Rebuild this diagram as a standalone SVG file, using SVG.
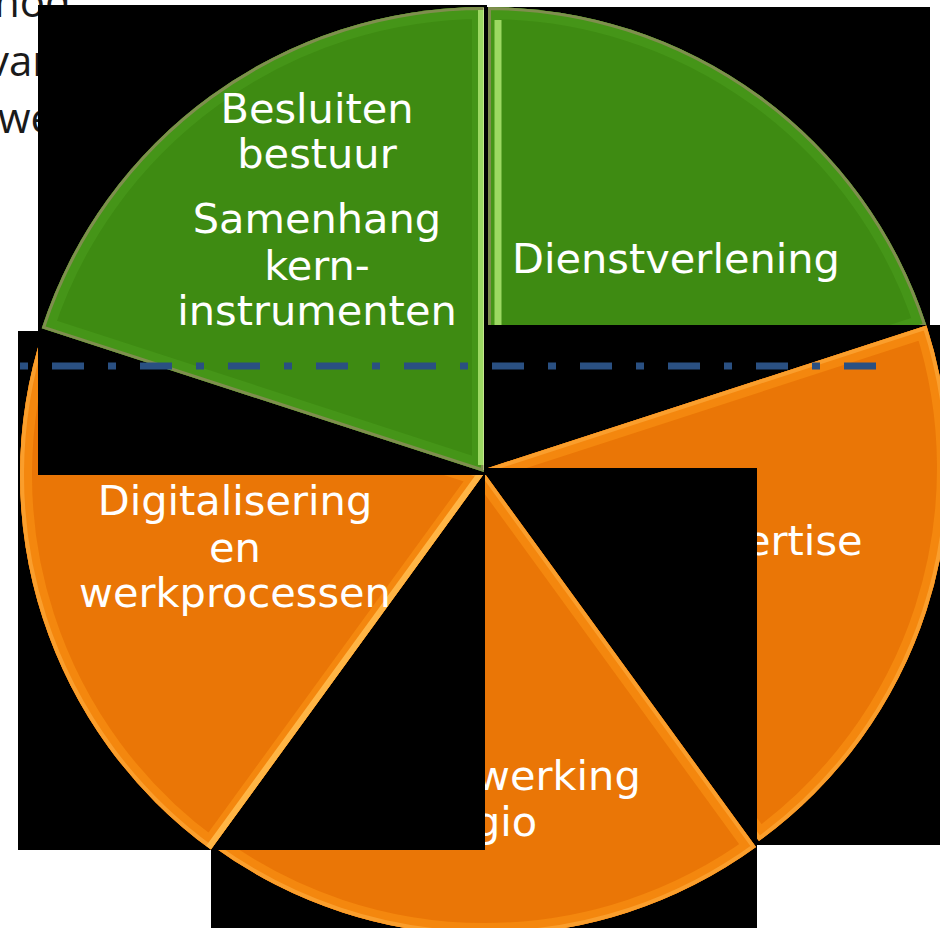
<svg xmlns="http://www.w3.org/2000/svg" xmlns:xlink="http://www.w3.org/1999/xlink" width="940" height="928" viewBox="0 0 940 928">
<style>
.lbl{font-family:"DejaVu Sans","Liberation Sans",sans-serif;font-size:41.5px;fill:#ffffff;text-anchor:middle}
.lbs{font-family:"DejaVu Sans","Liberation Sans",sans-serif;font-size:41.5px;fill:#ffffff}
.side{font-family:"Open Sans","Noto Sans",sans-serif;font-size:42px;fill:#1a1a1a}
.box{fill:#000000}
.gmain{fill:#3e8b12}
.gband{fill:none;stroke:#459518;stroke-width:24}
.grim{fill:none;stroke:#7f8e4e;stroke-width:6}
.omain{fill:#ea7606}
.oband{fill:none;stroke:#f4870e;stroke-width:24}
.orim{fill:none;stroke:#fa9e2c;stroke-width:8}
</style>
<defs>
<path id="pB" d="M484,472 L41.76,328.31 A465,465 0 0 1 484,7 Z"/>
<path id="pD" d="M488,468 L488,7 A461,461 0 0 1 926.44,325.54 Z"/>
<path id="pE" d="M488,468 L926.44,325.54 A461,461 0 0 1 758.97,840.96 Z"/>
<path id="pS" d="M485,474 L755.97,846.96 A461,461 0 0 1 214.03,846.96 Z"/>
<path id="pG" d="M483,475 L210.86,849.57 A463,463 0 0 1 42.66,331.93 Z"/>
<clipPath id="cB"><use xlink:href="#pB"/></clipPath>
<clipPath id="cD"><use xlink:href="#pD"/></clipPath>
<clipPath id="cE"><use xlink:href="#pE"/></clipPath>
<clipPath id="cS"><use xlink:href="#pS"/></clipPath>
<clipPath id="cG"><use xlink:href="#pG"/></clipPath>
</defs>
<rect x="0" y="0" width="940" height="928" fill="#ffffff"/>
<g id="side-text">
<text class="side" x="-6" y="17">hod</text>
<text class="side" x="-12" y="76">var</text>
<text class="side" x="-2" y="133">we</text>
</g>
<g id="dienstverlening">
<rect class="box" x="487" y="7" width="443" height="318"/>
<use xlink:href="#pD" class="gmain"/>
<use xlink:href="#pD" class="gband" clip-path="url(#cD)"/>
<use xlink:href="#pD" class="grim" clip-path="url(#cD)"/>
<line x1="498" y1="20" x2="498" y2="460" stroke="#9cd862" stroke-width="7" clip-path="url(#cD)"/>
<text class="lbl" x="676" y="273">Dienstverlening</text>
</g>
<g id="expertise">
<rect class="box" x="487" y="325" width="453" height="520"/>
<use xlink:href="#pE" class="omain"/>
<use xlink:href="#pE" class="oband" clip-path="url(#cE)"/>
<use xlink:href="#pE" class="orim" clip-path="url(#cE)"/>
<text class="lbs" x="745" y="555">ertise</text>
</g>
<g id="samenwerking">
<rect class="box" x="211" y="468" width="546" height="460"/>
<use xlink:href="#pS" class="omain"/>
<use xlink:href="#pS" class="oband" clip-path="url(#cS)"/>
<use xlink:href="#pS" class="orim" clip-path="url(#cS)"/>
<text class="lbs" x="476" y="790">werking</text>
<text class="lbs" x="474" y="836">gio</text>
</g>
<g id="digitalisering">
<rect class="box" x="18" y="331" width="467" height="519"/>
<use xlink:href="#pG" class="omain"/>
<use xlink:href="#pG" class="oband" clip-path="url(#cG)"/>
<use xlink:href="#pG" class="orim" clip-path="url(#cG)"/>
<line x1="483" y1="475" x2="210.86" y2="849.57" stroke="#ffb545" stroke-width="12" clip-path="url(#cG)"/>
<text class="lbl" x="235" y="515">Digitalisering</text>
<text class="lbl" x="235" y="562">en</text>
<text class="lbl" x="235" y="607">werkprocessen</text>
</g>
<g id="besluiten">
<rect class="box" x="38" y="5" width="449" height="470"/>
<use xlink:href="#pB" class="gmain"/>
<use xlink:href="#pB" class="gband" clip-path="url(#cB)"/>
<use xlink:href="#pB" class="grim" clip-path="url(#cB)"/>
<line x1="481" y1="10" x2="481" y2="465" stroke="#9cd862" stroke-width="6" clip-path="url(#cB)"/>
<line x1="485" y1="8" x2="485" y2="470" stroke="#eef6b8" stroke-width="3" clip-path="url(#cB)"/>
<text class="lbl" x="317" y="123">Besluiten</text>
<text class="lbl" x="317" y="168">bestuur</text>
<text class="lbl" x="317" y="233">Samenhang</text>
<text class="lbl" x="317" y="280">kern-</text>
<text class="lbl" x="317" y="325">instrumenten</text>
</g>
<g id="connectors">
<line x1="20" y1="366" x2="876" y2="366" stroke="#2a5082" stroke-width="7" stroke-dasharray="8 24 32 24"/>
</g>
</svg>
